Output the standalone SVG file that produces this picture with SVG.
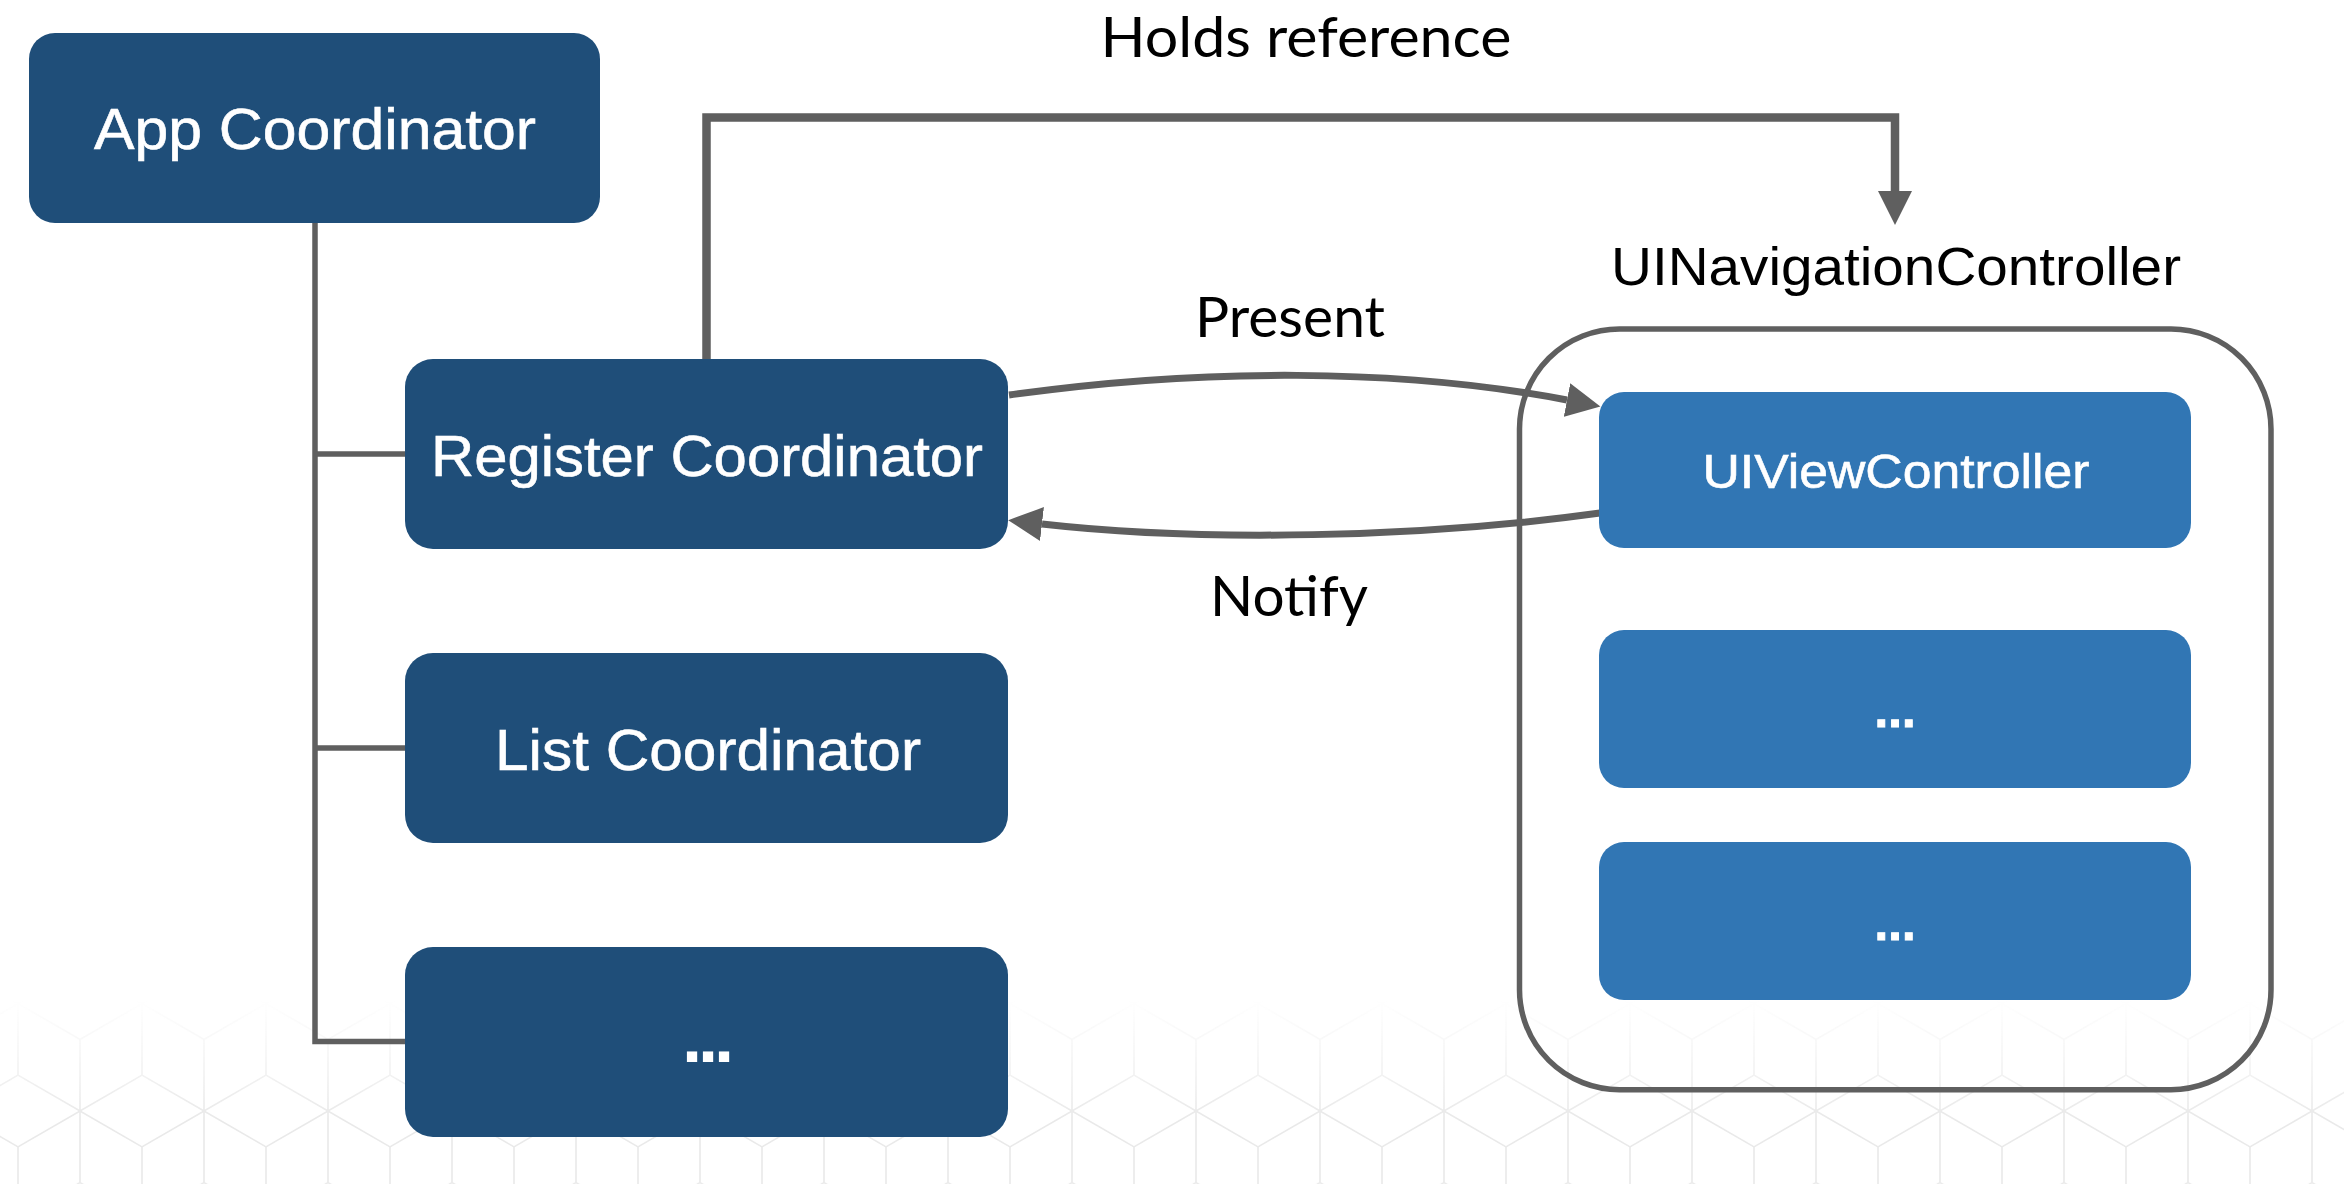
<svg xmlns="http://www.w3.org/2000/svg" width="2344" height="1184" viewBox="0 0 2344 1184">
  <style>
    .dark { fill: #1f4e79; }
    .light { fill: #3176b4; }
    .ntext { font-family: "Liberation Sans", Arial, sans-serif; fill: #ffffff; text-anchor: middle; stroke: #ffffff; stroke-width: 0.6; }
    .dots { font-family: "Liberation Sans", Arial, sans-serif; font-weight: bold; fill: #ffffff; text-anchor: middle; stroke: #ffffff; stroke-linejoin: miter; }
    .label { font-family: Lato, "Open Sans", sans-serif; fill: #000000; text-anchor: middle; }
    .title { font-family: "Liberation Sans", Arial, sans-serif; fill: #000000; text-anchor: middle; }
    .conn { fill: none; stroke: #5f5f5f; }
  </style>
  <defs>
    <marker id="arrow" markerUnits="userSpaceOnUse" markerWidth="36" markerHeight="36" viewBox="0 -18 36 36" refX="0" refY="0" orient="auto">
      <path d="M0,-17 L34,0 L0,17 Z" fill="#5f5f5f"/>
    </marker>
    <pattern id="cubes" patternUnits="userSpaceOnUse" x="80" y="37" width="124" height="214.8">
      <g fill="none" stroke="#e9e9e9" stroke-width="1.6">
        <path d="M0,0 L62,35.8 M0,0 L62,-35.8 M0,0 L0,71.6"/>
        <path d="M124,0 L62,35.8 M124,0 L62,-35.8 M124,0 L124,71.6"/>
        <path d="M0,214.8 L62,179 M0,214.8 L62,250.6 M0,214.8 L0,143.2"/>
        <path d="M124,214.8 L62,179 M124,214.8 L62,250.6 M124,214.8 L124,143.2"/>
        <path d="M62,107.4 L0,71.6 M62,107.4 L124,71.6 M62,107.4 L0,143.2 M62,107.4 L124,143.2 M62,107.4 L62,35.8 M62,107.4 L62,179"/>
      </g>
    </pattern>
    <linearGradient id="fade" x1="0" y1="1000" x2="0" y2="1120" gradientUnits="userSpaceOnUse">
      <stop offset="0" stop-color="#fff" stop-opacity="0"/>
      <stop offset="1" stop-color="#fff" stop-opacity="1"/>
    </linearGradient>
    <mask id="fadeMask" maskUnits="userSpaceOnUse" x="0" y="990" width="2344" height="194">
      <rect x="0" y="990" width="2344" height="194" fill="url(#fade)"/>
    </mask>
  </defs>

  <rect x="0" y="0" width="2344" height="1184" fill="#ffffff"/>
  <rect id="background-pattern" x="0" y="990" width="2344" height="194" fill="url(#cubes)" mask="url(#fadeMask)"/>

  <g id="connectors">
    <path class="conn" stroke-width="5.5" d="M315,223 V1041.5 H405 M315,454 H405 M315,748 H405"/>
    <path class="conn" stroke-width="8.5" d="M706.5,359 V117.5 H1895 V191" marker-end="url(#arrow)"/>
    <path class="conn" stroke-width="7" d="M1009,395 C1200,368 1400,368 1567,400" marker-end="url(#arrow)"/>
    <path class="conn" stroke-width="7" d="M1600,513 C1420,538 1200,542 1042,524" marker-end="url(#arrow)"/>
    <text class="label" x="1306" y="57" font-size="56" textLength="411" lengthAdjust="spacingAndGlyphs">Holds reference</text>
    <text class="label" x="1290" y="337" font-size="56" textLength="190" lengthAdjust="spacingAndGlyphs">Present</text>
    <text class="label" x="1289" y="616" font-size="56" textLength="158" lengthAdjust="spacingAndGlyphs">Notify</text>
  </g>

  <g id="app-coordinator">
    <rect class="dark" x="29" y="33" width="571" height="190" rx="26"/>
    <text class="ntext" x="315" y="149" font-size="58" textLength="442" lengthAdjust="spacingAndGlyphs">App Coordinator</text>
  </g>
  <g id="register-coordinator">
    <rect class="dark" x="405" y="359" width="603" height="190" rx="28"/>
    <text class="ntext" x="707" y="476" font-size="58" textLength="552" lengthAdjust="spacingAndGlyphs">Register Coordinator</text>
  </g>
  <g id="list-coordinator">
    <rect class="dark" x="405" y="653" width="603" height="190" rx="28"/>
    <text class="ntext" x="708" y="770" font-size="58" textLength="426" lengthAdjust="spacingAndGlyphs">List Coordinator</text>
  </g>
  <g id="more-coordinators">
    <rect class="dark" x="405" y="947" width="603" height="190" rx="28"/>
    <text class="dots" x="708" y="1061" font-size="58" stroke-width="2" textLength="48" lengthAdjust="spacing">...</text>
  </g>

  <g id="navigation-controller">
    <rect x="1519.5" y="329" width="751.5" height="760.7" rx="100" fill="none" stroke="#5f5f5f" stroke-width="5.5"/>
    <text class="title" x="1896" y="285" font-size="53" textLength="570" lengthAdjust="spacingAndGlyphs">UINavigationController</text>
  </g>
  <g id="view-controller">
    <rect class="light" x="1599" y="392" width="592" height="156" rx="25"/>
    <text class="ntext" x="1896" y="488" font-size="49" textLength="387" lengthAdjust="spacingAndGlyphs">UIViewController</text>
  </g>
  <g id="view-controller-2">
    <rect class="light" x="1599" y="630" width="592" height="158" rx="25"/>
    <text class="dots" x="1895" y="727" font-size="49" stroke-width="1" textLength="41" lengthAdjust="spacing">...</text>
  </g>
  <g id="view-controller-3">
    <rect class="light" x="1599" y="842" width="592" height="158" rx="25"/>
    <text class="dots" x="1895" y="940" font-size="49" stroke-width="1" textLength="41" lengthAdjust="spacing">...</text>
  </g>
</svg>
